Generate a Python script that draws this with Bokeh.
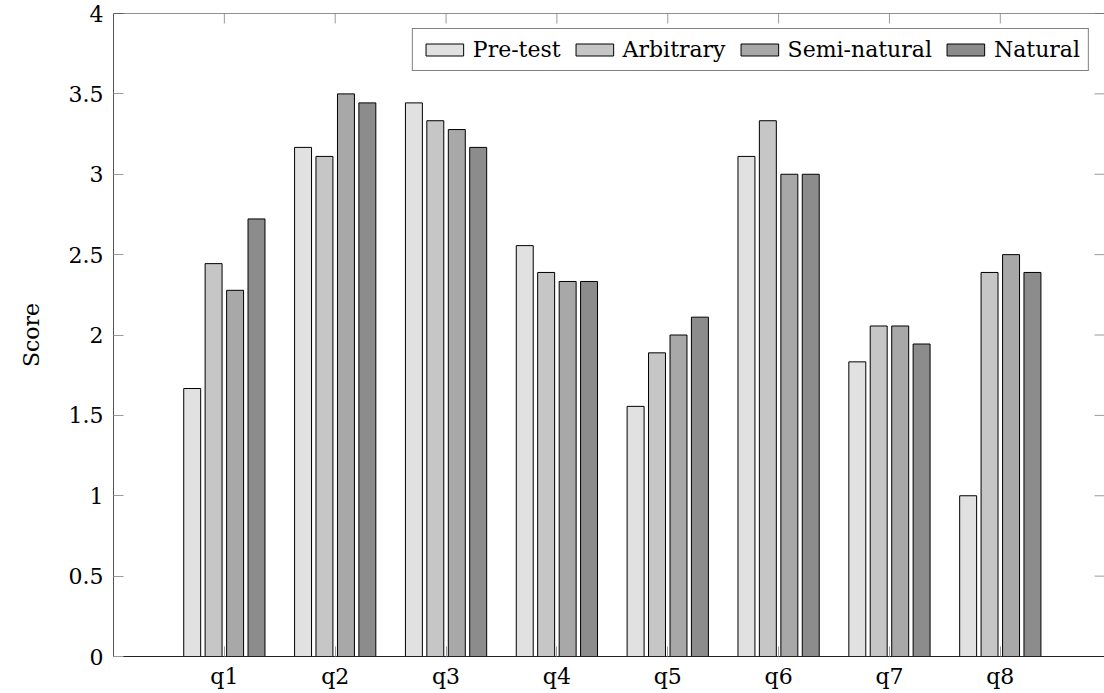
from bokeh.plotting import figure
from bokeh.models import ColumnDataSource, Range1d, LinearAxis, FixedTicker, Legend, LegendItem, Span
from bokeh.transform import dodge
from bokeh.embed import file_html
from bokeh.resources import INLINE

categories = ["q1", "q2", "q3", "q4", "q5", "q6", "q7", "q8"]
pre_test = [1.667, 3.167, 3.444, 2.556, 1.556, 3.111, 1.833, 1.0]
arbitrary = [2.444, 3.111, 3.333, 2.389, 1.889, 3.333, 2.056, 2.389]
semi_natural = [2.278, 3.5, 3.278, 2.333, 2.0, 3.0, 2.056, 2.5]
natural = [2.722, 3.444, 3.167, 2.333, 2.111, 3.0, 1.944, 2.389]
series_names = ["Pre-test", "Arbitrary", "Semi-natural", "Natural"]
y_ticks = [0, 0.5, 1, 1.5, 2, 2.5, 3, 3.5, 4]

colors = ["#e1e1e1", "#c6c6c6", "#a8a8a8", "#8c8c8c"]
offsets = [-0.29, -0.097, 0.097, 0.29]
FONT = "DejaVu Serif"
FS = "22px"
X_END = 8.94
Y_END = 4.0
TICK_DX = 0.09   # ~10px in x data units
TICK_DY = 0.062  # ~10px in y data units

positions = list(range(1, len(categories) + 1))
source = ColumnDataSource(dict(x=positions, pre=pre_test, arb=arbitrary,
                               semi=semi_natural, nat=natural))

p = figure(width=1104, height=693, output_backend="svg", toolbar_location=None,
           x_range=Range1d(0, X_END), y_range=Range1d(0, Y_END),
           min_border_left=113, min_border_right=0, min_border_top=13,
           min_border_bottom=37, x_axis_location=None, y_axis_location=None)
p.grid.visible = False
p.outline_line_color = None
p.background_fill_color = "white"
p.border_fill_color = "white"

renderers = []
for col, off, c in zip(["pre", "arb", "semi", "nat"], offsets, colors):
    r = p.vbar(x=dodge("x", off), top=col, width=0.153, bottom=0, source=source,
               fill_color=c, line_color="black", line_width=1)
    renderers.append(r)

# top frame edge (right edge lies beyond the visible area, as in the reference)
p.add_layout(Span(location=Y_END, dimension="width", line_color="#222222", line_width=1))

# mirrored ticks on the top and right edges (pgfplots style)
tick_color = "#9a9a9a"
p.segment(x0=positions, y0=[Y_END] * len(positions), x1=positions,
          y1=[Y_END - TICK_DY] * len(positions), line_color=tick_color, line_width=1)
p.segment(x0=[X_END] * len(y_ticks), y0=y_ticks, x1=[X_END - TICK_DX] * len(y_ticks),
          y1=y_ticks, line_color=tick_color, line_width=1)

def style_axis(ax):
    ax.axis_line_color = "#222222"
    ax.axis_line_width = 1
    ax.major_tick_in = 10
    ax.major_tick_out = 0
    ax.minor_tick_in = 0
    ax.minor_tick_out = 0
    ax.major_tick_line_color = tick_color
    ax.major_tick_line_width = 1
    ax.major_label_text_font = FONT
    ax.major_label_text_color = "black"
    ax.major_label_text_font_size = FS
    ax.major_label_standoff = 10

xt = FixedTicker(ticks=positions)
yt = FixedTicker(ticks=y_ticks)

bottom = LinearAxis(ticker=xt, major_label_overrides={i: c for i, c in zip(positions, categories)})
style_axis(bottom)
bottom.major_label_standoff = 7
p.add_layout(bottom, "below")

left = LinearAxis(ticker=yt, axis_label="Score",
                  major_label_overrides={0: "0", 1: "1", 2: "2", 3: "3", 4: "4"})
style_axis(left)
left.axis_line_color = "#555555"
left.axis_label_text_font = FONT
left.axis_label_text_font_size = FS
left.axis_label_text_font_style = "normal"
left.axis_label_text_color = "black"
left.axis_label_standoff = 22
p.add_layout(left, "left")

legend = Legend(items=[LegendItem(label=n, renderers=[r]) for n, r in zip(series_names, renderers)],
                orientation="horizontal", location="top_right")
legend.glyph_width = 47
legend.glyph_height = 15
legend.label_text_font = FONT
legend.label_text_font_size = FS
legend.label_text_color = "black"
legend.label_standoff = 5
legend.spacing = 10
legend.padding = 8
legend.margin = 15
legend.border_line_color = "black"
legend.border_line_width = 1
legend.background_fill_color = "white"
legend.background_fill_alpha = 1
p.add_layout(legend, "center")

open("out.html", "w").write(file_html(p, INLINE))
